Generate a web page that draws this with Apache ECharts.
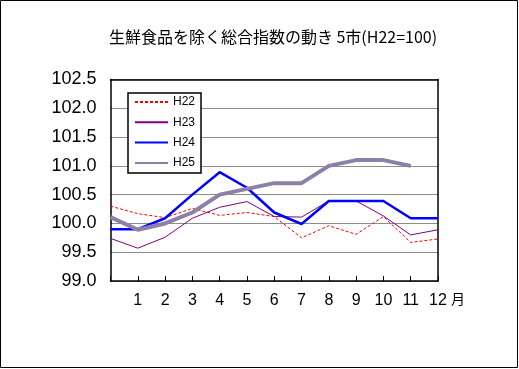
<!DOCTYPE html>
<html>
<head>
<meta charset="utf-8">
<script src="https://cdn.jsdelivr.net/npm/echarts@6/dist/echarts.min.js"></script>
<style>
html,body{margin:0;padding:0;background:#fff;}
#c{width:519px;height:369px;}
</style>
</head>
<body>
<div id="c"></div>
<script>
var titleText = '生鮮食品を除く総合指数の動き 5市(H22=100)';
var months = ['', '1', '2', '3', '4', '5', '6', '7', '8', '9', '10', '11', '12'];
var seriesNames = ['H22', 'H23', 'H24', 'H25'];
var h22 = [100.3, 100.17, 100.1, 100.26, 100.14, 100.19, 100.12, 99.75, 99.96, 99.81, 100.12, 99.67, 99.73];
var h23 = [99.74, 99.57, 99.76, 100.09, 100.28, 100.38, 100.12, 100.11, 100.39, 100.39, 100.13, 99.8, 99.89];
var h24 = [99.9, 99.9, 100.09, 100.5, 100.89, 100.62, 100.19, 99.99, 100.39, 100.39, 100.39, 100.09, 100.09];
var h25 = [100.11, 99.89, 100.0, 100.19, 100.5, 100.6, 100.7, 100.7, 101.0, 101.1, 101.1, 101.0];
var yMin = 99.0, yMax = 102.5, yStep = 0.5;

var chart = echarts.init(document.getElementById('c'));
var numFont = 'Liberation Sans';
chart.setOption({
  animation: false,
  backgroundColor: '#ffffff',
  title: {
    text: titleText,
    left: 268, top: 24, textAlign: 'center',
    textStyle: {fontFamily: 'Noto Sans CJK JP', fontSize: 16, fontWeight: 'normal', color: '#000'}
  },
  grid: {left: 110.5, right: 81, top: 79.5, bottom: 88, show: false},
  legend: {
    left: 128, top: 93, orient: 'vertical',
    data: seriesNames,
    backgroundColor: '#fff', borderColor: '#000', borderWidth: 1.5,
    padding: [3, 6, 4, 6],
    itemWidth: 33, itemHeight: 12, itemGap: 8.3,
    itemStyle: {color: 'rgba(0,0,0,0)', borderWidth: 0, opacity: 0},
    textStyle: {fontFamily: numFont, fontSize: 12, color: '#000'}
  },
  xAxis: [{
    type: 'category', data: months, boundaryGap: false,
    axisLine: {lineStyle: {color: '#000', width: 1.5}},
    axisTick: {inside: true, length: 5, lineStyle: {color: '#000'}},
    axisLabel: {fontFamily: numFont, fontSize: 16, color: '#000', margin: 12},
    splitLine: {show: false}
  }, {
    type: 'category', data: months, boundaryGap: false, position: 'top',
    axisLine: {lineStyle: {color: '#000', width: 1.5}},
    axisTick: {show: false}, axisLabel: {show: false}, splitLine: {show: false}
  }],
  yAxis: [{
    type: 'value', min: yMin, max: yMax, interval: yStep,
    axisLine: {show: true, lineStyle: {color: '#000', width: 1.5}},
    axisTick: {show: false},
    axisLabel: {fontFamily: numFont, fontSize: 18, color: '#000', margin: 14,
      formatter: function (v) { return v.toFixed(1); }},
    splitLine: {lineStyle: {color: '#8c8c8c', width: 1}}
  }, {
    type: 'value', min: yMin, max: yMax, interval: yStep, position: 'right',
    axisLine: {show: true, lineStyle: {color: '#000', width: 1.5}},
    axisTick: {show: false}, axisLabel: {show: false}, splitLine: {show: false}
  }],
  graphic: [
    {type: 'rect', shape: {x: 0.5, y: 0.5, width: 517, height: 367}, style: {fill: 'none', stroke: '#000', lineWidth: 1}, silent: true},
    {type: 'text', left: 451, top: 292, style: {text: '月', font: '14px "Noto Sans CJK JP"', fill: '#000'}}
  ],
  series: [
    {name: 'H22', type: 'line', data: h22, symbol: 'none', lineStyle: {color: '#ff0000', width: 1, type: [3, 2]}, itemStyle: {color: '#ff0000'}, z: 3},
    {name: 'H23', type: 'line', data: h23, symbol: 'none', lineStyle: {color: '#800080', width: 1}, itemStyle: {color: '#800080'}, z: 4},
    {name: 'H24', type: 'line', data: h24, symbol: 'none', lineStyle: {color: '#0000ff', width: 2.5}, itemStyle: {color: '#0000ff'}, z: 5},
    {name: 'H25', type: 'line', data: h25, symbol: 'none', lineStyle: {color: '#8c80a8', width: 4}, itemStyle: {color: '#8c80a8'}, z: 6}
  ]
});
</script>
</body>
</html>
